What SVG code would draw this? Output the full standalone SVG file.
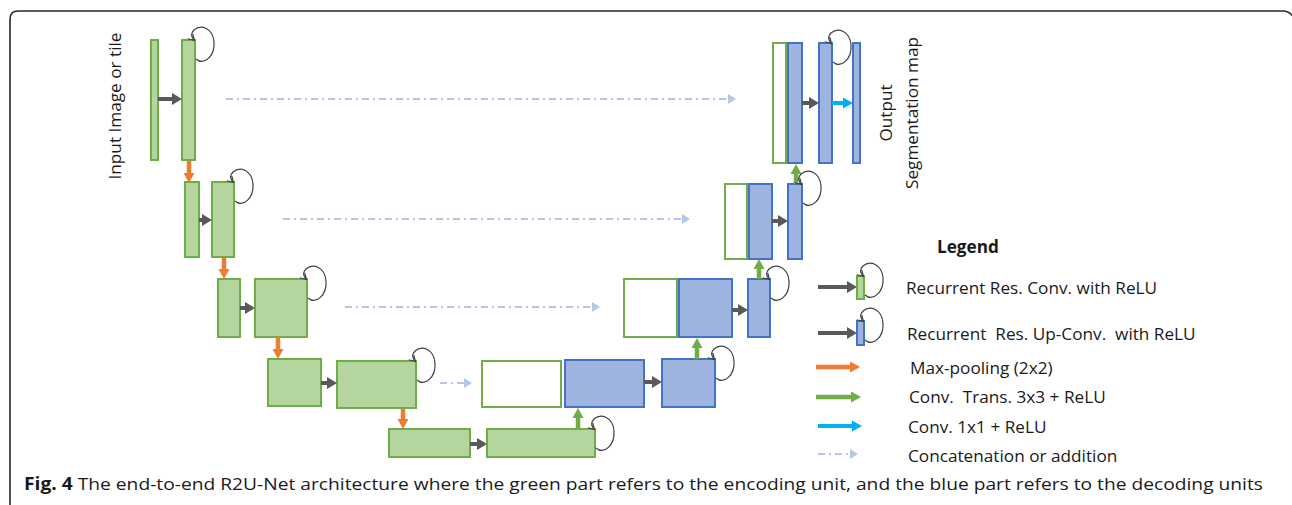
<svg xmlns="http://www.w3.org/2000/svg" width="1292" height="505" viewBox="0 0 1292 505">
  <style>
    .enc { fill: #b5d59f; stroke: #70ad47; stroke-width: 2; }
    .dec { fill: #9db4e0; stroke: #4472c4; stroke-width: 2; }
    .skip { fill: #ffffff; stroke: #70ad47; stroke-width: 2; }
    .dark { stroke: #595959; stroke-width: 4; fill: none; marker-end: url(#head-dark); }
    .pool { stroke: #ed7d31; stroke-width: 4.5; fill: none; marker-end: url(#head-pool); }
    .up { stroke: #70ad47; stroke-width: 4.5; fill: none; marker-end: url(#head-up); }
    .conv1 { stroke: #00b0f0; stroke-width: 4; fill: none; marker-end: url(#head-conv1); }
    .concat { stroke: #b4c7e7; stroke-width: 2; fill: none; stroke-dasharray: 7 4 2 4; marker-end: url(#head-concat); }
    .loop { stroke: #404040; stroke-width: 1.2; fill: none; marker-end: url(#head-loop); }
    .lbl { font-family: "Open Sans", "Noto Sans", sans-serif; font-size: 17.2px; fill: #1a1a1a; }
    .frame { stroke: #262626; stroke-width: 1.6; fill: none; }
  </style>
  <defs>
    <marker id="head-dark" markerUnits="userSpaceOnUse" orient="auto" refX="0" refY="0" overflow="visible">
      <path d="M0,-6 L10,0 L0,6 z" fill="#595959"/>
    </marker>
    <marker id="head-pool" markerUnits="userSpaceOnUse" orient="auto" refX="0" refY="0" overflow="visible">
      <path d="M0,-5.5 L10,0 L0,5.5 z" fill="#ed7d31"/>
    </marker>
    <marker id="head-up" markerUnits="userSpaceOnUse" orient="auto" refX="0" refY="0" overflow="visible">
      <path d="M0,-5.5 L10,0 L0,5.5 z" fill="#70ad47"/>
    </marker>
    <marker id="head-conv1" markerUnits="userSpaceOnUse" orient="auto" refX="0" refY="0" overflow="visible">
      <path d="M0,-5.5 L10,0 L0,5.5 z" fill="#00b0f0"/>
    </marker>
    <marker id="head-concat" markerUnits="userSpaceOnUse" orient="auto" refX="0" refY="0" overflow="visible">
      <path d="M0,-5 L8,0 L0,5 z" fill="#b4c7e7"/>
    </marker>
    <marker id="head-loop" markerUnits="userSpaceOnUse" orient="auto" refX="0" refY="0" overflow="visible">
      <path d="M-6,-3.5 L0,0 L-6,3.5" fill="none" stroke="#404040" stroke-width="1.2"/>
    </marker>
    <!-- recurrent self-loop, anchored at the block's top-right corner -->
    <path id="loop" class="loop" d="M1,19 C9,26 20,16 19,2 C18,-12 6,-16 -1,-10 C-5,-6 -3,-2 -0.5,0.5"/>
  </defs>

  <!-- figure frame -->
  <path class="frame" d="M10,505 L10,19 Q10,11 18,11 L1283,11 Q1290,11 1294,18"/>

  <!-- encoder -->
  <g id="enc1-input"><rect class="enc" x="151" y="40" width="7" height="120"/></g>
  <g id="enc1-rrcnn"><rect class="enc" x="182" y="40" width="13" height="120"/></g>
  <g id="enc2-pool"><rect class="enc" x="185" y="182" width="14" height="75"/></g>
  <g id="enc2-rrcnn"><rect class="enc" x="212" y="182" width="22" height="75"/></g>
  <g id="enc3-pool"><rect class="enc" x="218" y="279" width="22" height="58"/></g>
  <g id="enc3-rrcnn"><rect class="enc" x="255" y="279" width="52" height="58"/></g>
  <g id="enc4-pool"><rect class="enc" x="268" y="359" width="53" height="47"/></g>
  <g id="enc4-rrcnn"><rect class="enc" x="337" y="361" width="79" height="47"/></g>
  <g id="enc5-pool"><rect class="enc" x="389" y="429" width="81" height="28"/></g>
  <g id="enc5-rrcnn"><rect class="enc" x="487" y="429" width="108" height="28"/></g>

  <!-- decoder -->
  <g id="dec4-skip"><rect class="skip" x="482" y="361" width="79" height="46"/></g>
  <g id="dec4-up"><rect class="dec" x="565" y="360" width="79" height="47"/></g>
  <g id="dec4-rrcnn"><rect class="dec" x="662" y="359" width="53" height="48"/></g>
  <g id="dec3-skip"><rect class="skip" x="624" y="279" width="53" height="58"/></g>
  <g id="dec3-up"><rect class="dec" x="679" y="279" width="53" height="58"/></g>
  <g id="dec3-rrcnn"><rect class="dec" x="748" y="279" width="22" height="58"/></g>
  <g id="dec2-skip"><rect class="skip" x="725" y="184" width="22" height="75"/></g>
  <g id="dec2-up"><rect class="dec" x="749" y="184" width="23" height="75"/></g>
  <g id="dec2-rrcnn"><rect class="dec" x="788" y="184" width="14" height="75"/></g>
  <g id="dec1-skip"><rect class="skip" x="773" y="43" width="13" height="120"/></g>
  <g id="dec1-up"><rect class="dec" x="788" y="43" width="14" height="120"/></g>
  <g id="dec1-rrcnn"><rect class="dec" x="819" y="43" width="13" height="120"/></g>
  <g id="output-map"><rect class="dec" x="853" y="43" width="7" height="120"/></g>

  <!-- connectors -->
  <g id="connectors">
    <!-- recurrent residual convolutions -->
    <line class="dark" x1="158" y1="99" x2="172" y2="99"/>
    <line class="dark" x1="199" y1="220" x2="202" y2="220"/>
    <line class="dark" x1="240" y1="308" x2="245" y2="308"/>
    <line class="dark" x1="321" y1="383" x2="327" y2="383"/>
    <line class="dark" x1="470" y1="444" x2="477" y2="444"/>
    <line class="dark" x1="644" y1="382" x2="652" y2="382"/>
    <line class="dark" x1="732" y1="310" x2="738" y2="310"/>
    <line class="dark" x1="772" y1="221" x2="778" y2="221"/>
    <line class="dark" x1="802" y1="103" x2="809" y2="103"/>
    <!-- max-pooling -->
    <line class="pool" x1="189" y1="161" x2="189" y2="173"/>
    <line class="pool" x1="224" y1="258" x2="224" y2="269"/>
    <line class="pool" x1="278" y1="338" x2="278" y2="349"/>
    <line class="pool" x1="403" y1="409" x2="403" y2="419"/>
    <!-- transposed convolutions -->
    <line class="up" x1="578" y1="429" x2="578" y2="418"/>
    <line class="up" x1="697" y1="359" x2="697" y2="348"/>
    <line class="up" x1="759" y1="279" x2="759" y2="269"/>
    <line class="up" x1="796" y1="184" x2="796" y2="174"/>
    <!-- 1x1 convolution -->
    <line class="conv1" x1="832" y1="103" x2="843" y2="103"/>
    <!-- skip connections -->
    <line class="concat" x1="226" y1="99" x2="728" y2="99"/>
    <line class="concat" x1="283" y1="219" x2="682" y2="219"/>
    <line class="concat" x1="345" y1="307" x2="592" y2="307"/>
    <line class="concat" x1="440" y1="383" x2="464" y2="383"/>
    <!-- recurrent loops -->
    <use href="#loop" x="195" y="40"/>
    <use href="#loop" x="234" y="182"/>
    <use href="#loop" x="307" y="279"/>
    <use href="#loop" x="416" y="361"/>
    <use href="#loop" x="595" y="429"/>
    <use href="#loop" x="715" y="359"/>
    <use href="#loop" x="770" y="279"/>
    <use href="#loop" x="802" y="184"/>
    <use href="#loop" x="832" y="43"/>
  </g>

  <!-- side labels -->
  <text class="lbl" font-size="19" text-anchor="middle" transform="translate(121,106) rotate(-90)">Input Image or tile</text>
  <text class="lbl" font-size="18.4" text-anchor="middle" transform="translate(892,113) rotate(-90)">Output</text>
  <text class="lbl" font-size="18.4" text-anchor="middle" transform="translate(918,113) rotate(-90)">Segmentation map</text>

  <!-- legend -->
  <g id="legend">
    <text class="lbl" x="937" y="253" font-size="16" font-weight="bold">Legend</text>
    <line class="dark" x1="818" y1="287" x2="847" y2="287"/>
    <rect class="enc" x="857" y="276" width="7" height="23" stroke-width="1.5"/>
    <use href="#loop" x="864" y="276"/>
    <text class="lbl" x="906" y="294">Recurrent Res. Conv. with ReLU</text>
    <line class="dark" x1="818" y1="333" x2="847" y2="333"/>
    <rect class="dec" x="857" y="321" width="7" height="24" stroke-width="1.5"/>
    <use href="#loop" x="864" y="321"/>
    <text class="lbl" x="907" y="340" xml:space="preserve">Recurrent  Res. Up-Conv.  with ReLU</text>
    <line class="pool" x1="816" y1="367" x2="850" y2="367"/>
    <text class="lbl" x="910" y="374">Max-pooling (2x2)</text>
    <line class="up" x1="816" y1="397" x2="851" y2="397"/>
    <text class="lbl" x="909" y="403" xml:space="preserve">Conv.  Trans. 3x3 + ReLU</text>
    <line class="conv1" x1="818" y1="426" x2="852" y2="426"/>
    <text class="lbl" x="908" y="433">Conv. 1x1 + ReLU</text>
    <line class="concat" x1="818" y1="454" x2="850" y2="454"/>
    <text class="lbl" x="908" y="462">Concatenation or addition</text>
  </g>

  <!-- caption -->
  <text class="lbl" x="24" y="490" font-size="17" textLength="1239" lengthAdjust="spacingAndGlyphs"><tspan font-weight="bold">Fig. 4</tspan> The end-to-end R2U-Net architecture where the green part refers to the encoding unit, and the blue part refers to the decoding units</text>
</svg>
